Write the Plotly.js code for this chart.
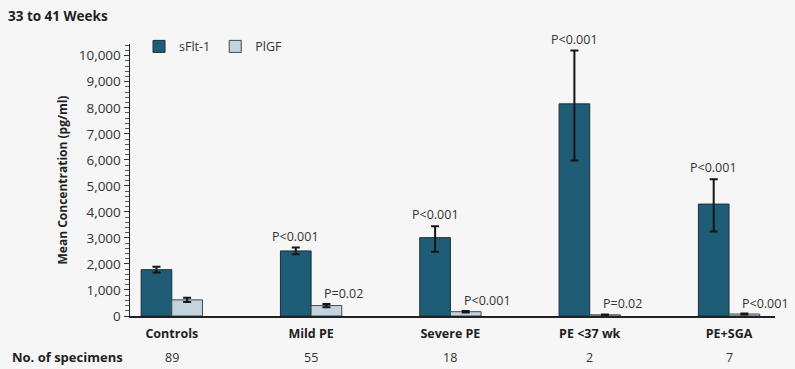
<!DOCTYPE html>
<html>
<head>
<meta charset="utf-8">
<script src="https://cdn.plot.ly/plotly-3.0.1.min.js"></script>
<style>html,body{margin:0;padding:0;background:#f6f6f6;}#chart{width:795px;height:369px;}</style>
</head>
<body>
<div id="chart"></div>
<script>
// ---- data ----
const categories = ["Controls", "Mild PE", "Severe PE", "PE <37 wk", "PE+SGA"];
const sflt = [1780, 2500, 3010, 8150, 4300];
const sfltErrPlus = [110, 130, 440, 2050, 950];
const sfltErrMinus = [110, 130, 540, 2180, 1050];
const plgf = [620, 400, 165, 45, 75];
const plgfErr = [80, 60, 30, 15, 20];
const specimens = [89, 55, 18, 2, 7];
const pSflt = ["", "P<0.001", "P<0.001", "P<0.001", "P<0.001"];
const pPlgf = ["", "P=0.02", "P<0.001", "P=0.02", "P<0.001"];
const yTickVals = [0,1000,2000,3000,4000,5000,6000,7000,8000,9000,10000];
const yTickText = ["0","1,000","2,000","3,000","4,000","5,000","6,000","7,000","8,000","9,000","10,000"];

const FONT = "Open Sans, Lato, DejaVu Sans, sans-serif";
const xIdx = categories.map((c, i) => i);
const off = 0.11;

const traces = [
  {
    type: "bar", name: "sFlt-1", x: xIdx, y: sflt,
    marker: {color: "#1f5d77", line: {color: "#17313d", width: 1}},
    error_y: {type: "data", array: sfltErrPlus, arrayminus: sfltErrMinus, symmetric: false,
              color: "#151515", thickness: 2, width: 4}
  },
  {
    type: "bar", name: "PlGF", x: xIdx, y: plgf,
    marker: {color: "#c4d4de", line: {color: "#3a4a55", width: 1}},
    error_y: {type: "data", array: plgfErr, color: "#151515", thickness: 2, width: 4}
  }
];

const annotations = [];
categories.forEach((c, i) => {
  if (pSflt[i]) annotations.push({
    xref: "x", yref: "y", x: i - off, y: sflt[i] + sfltErrPlus[i],
    text: pSflt[i], showarrow: false, xanchor: "center", yanchor: "bottom", yshift: 1,
    font: {family: FONT, size: 12.5, color: "#333"}
  });
  if (pPlgf[i]) annotations.push({
    xref: "x", yref: "y", x: i + off, y: plgf[i] + plgfErr[i],
    text: pPlgf[i], showarrow: false, xanchor: "left", yanchor: "bottom", xshift: -4, yshift: 0,
    font: {family: FONT, size: 12.5, color: "#333"}
  });
  annotations.push({
    xref: "x", yref: "paper", x: i, y: -0.151, text: String(specimens[i]),
    showarrow: false, xanchor: "center", yanchor: "middle",
    font: {family: FONT, size: 12.5, color: "#333"}
  });
});
annotations.push({
  xref: "paper", yref: "paper", x: -0.186, y: -0.151, text: "<b>No. of specimens</b>",
  showarrow: false, xanchor: "left", yanchor: "middle",
  font: {family: FONT, size: 13, color: "#222"}
});

const layout = {
  width: 795, height: 369,
  paper_bgcolor: "#f6f6f6", plot_bgcolor: "#f6f6f6",
  margin: {l: 130, r: 20, t: 44, b: 53},
  font: {family: FONT, size: 12, color: "#333"},
  title: {text: "<b>33 to 41 Weeks</b>", xref: "container", x: 0.01, xanchor: "left",
          y: 0.955, yanchor: "middle", font: {family: FONT, size: 13.5, color: "#222"}},
  barmode: "group", bargap: 0.56, bargroupgap: 0,
  showlegend: true,
  legend: {orientation: "h", x: 0.014, y: 1.045, xanchor: "left", yanchor: "top",
           bgcolor: "rgba(0,0,0,0)", font: {family: FONT, size: 12.5, color: "#333"},
           itemwidth: 30, traceorder: "normal"},
  xaxis: {
    range: [-0.30, 4.33], tickvals: xIdx, ticktext: categories.map(c => "<b>" + c + "</b>"),
    showgrid: false, zeroline: false, showline: true, linecolor: "#222", linewidth: 1.5,
    ticks: "", ticklabelstandoff: 5, tickfont: {family: FONT, size: 12.5, color: "#222"}, fixedrange: true
  },
  yaxis: {
    range: [0, 10450], tickvals: yTickVals, ticktext: yTickText,
    showgrid: false, zeroline: false, showline: true, linecolor: "#222", linewidth: 1.5,
    ticks: "outside", ticklen: 5, tickwidth: 1, tickcolor: "#333",
    minor: {dtick: 200, ticks: "outside", ticklen: 4, tickwidth: 1, tickcolor: "#555", tick0: 0},
    tickfont: {family: FONT, size: 13.5, color: "#333"},
    title: {text: "<b>Mean Concentration (pg/ml)</b>", standoff: 8,
            font: {family: FONT, size: 12, color: "#222"}}
  },
  annotations: annotations
};

Plotly.newPlot("chart", traces, layout, {displayModeBar: false, staticPlot: true});
</script>
</body>
</html>
